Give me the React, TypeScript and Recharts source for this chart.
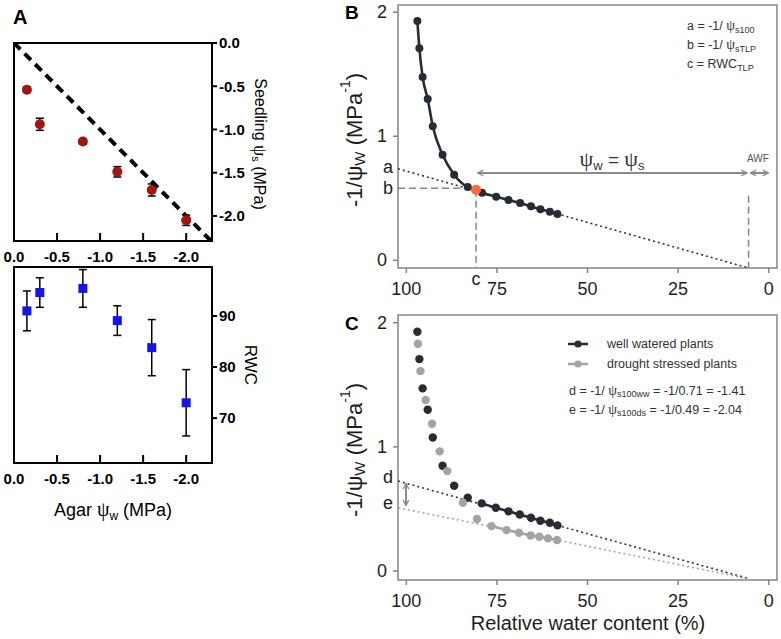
import React from 'react';
import {
  ComposedChart,
  Scatter,
  Line,
  XAxis,
  YAxis,
  ErrorBar,
  ReferenceArea,
  ReferenceLine,
  Legend
} from 'recharts';

const SANS = '"Liberation Sans", Arial, sans-serif';
const SERIF = '"Liberation Serif", "DejaVu Serif", serif';
const INK = '#1e1e1e';
const FRAME = '#858585';
const DARK = '#262b34';
const LIGHT = '#a4a4a4';
const ARROW = '#8a8a8a';

// ---- panel A : seedlings on agar ----
const agarPsiW = [-0.15, -0.3, -0.8, -1.2, -1.6, -2.0];
const seedlingPsiS = [-0.54, -0.94, -1.14, -1.49, -1.7, -2.05];
const seedlingPsiSErr = [0.03, 0.07, 0.03, 0.06, 0.07, 0.06];
const seedlingRwc = [91.0, 94.6, 95.4, 89.1, 83.8, 73.0];
const seedlingRwcErr = [3.9, 2.9, 3.7, 2.9, 5.5, 6.5];
const oneToOneX = [0, -2.29];
const oneToOneY = [0, -2.29];
const agarTicks = [0, -0.5, -1, -1.5, -2];
const psiSTicks = [0, -0.5, -1, -1.5, -2];
const rwcTicksA = [70, 80, 90];

// ---- panel B : pressure-volume curve ----
const pvRwc = [96.96, 96.4, 95.5, 94.1, 92.7, 90.0, 86.8, 83.05, 80.75, 79.1, 75.2, 71.8, 68.6, 65.6, 63.0, 60.4, 58.3];
const pvInvPsi = [1.93, 1.71, 1.477, 1.3, 1.08, 0.85, 0.69, 0.59, 0.569, 0.545, 0.513, 0.486, 0.462, 0.435, 0.411, 0.392, 0.374];
const tlpRwc = 80.75;
const tlpInvPsi = 0.569;
const fitRwcB = [102.3, 5.8];
const fitInvB = [0.738, -0.06];
const aLabel = 0.75;
const bLabel = 0.58;
const awfRwc = 5.55;

// ---- panel C : well watered vs drought stressed ----
const plantGroups = ['well watered plants', 'drought stressed plants'];
const wwRwc = [96.96, 96.4, 95.5, 94.1, 92.7, 90.0, 86.8, 83.05, 79.2, 75.3, 71.8, 68.7, 65.6, 63.0, 60.4, 58.3];
const wwInvPsi = [1.927, 1.707, 1.471, 1.299, 1.076, 0.848, 0.687, 0.59, 0.545, 0.51, 0.481, 0.456, 0.429, 0.405, 0.389, 0.368];
const dsRwc = [96.8, 96.1, 94.66, 92.9, 90.8, 88.7, 84.4, 80.5, 76.5, 72.35, 68.9, 65.7, 63.3, 60.9, 58.4];
const dsInvPsi = [1.83, 1.61, 1.377, 1.186, 0.964, 0.805, 0.55, 0.419, 0.362, 0.33, 0.309, 0.287, 0.276, 0.263, 0.25];
const fitRwcC = [102.3, 5.8];
const fitInvWw = [0.725, -0.058];
const fitInvDs = [0.51, -0.061];
const dLabel = 0.76;
const eLabel = 0.545;

const rwcTicks = [100, 75, 50, 25, 0];
const invPsiTicks = [0, 1, 2];
const RWC_DOMAIN: [number, number] = [-2.3, 102.3];

const psiData = agarPsiW.map((x, i) => ({ x, y: seedlingPsiS[i], err: seedlingPsiSErr[i] }));
const rwcDataA = agarPsiW.map((x, i) => ({ x, y: seedlingRwc[i], err: seedlingRwcErr[i] }));
const identity = oneToOneX.map((x, i) => ({ x, y: oneToOneY[i] }));
const pvData = pvRwc.map((rwc, i) => ({ rwc, v: pvInvPsi[i] }));
const fitB = fitRwcB.map((rwc, i) => ({ rwc, v: fitInvB[i] }));
const wwData = wwRwc.map((rwc, i) => ({ rwc, v: wwInvPsi[i] }));
const dsData = dsRwc.map((rwc, i) => ({ rwc, v: dsInvPsi[i] }));
const fitWw = fitRwcC.map((rwc, i) => ({ rwc, v: fitInvWw[i] }));
const fitDs = fitRwcC.map((rwc, i) => ({ rwc, v: fitInvDs[i] }));

const AgarTick = (props: any) => {
  const { x, y, payload, up, label } = props;
  return (
    <g>
      <line x1={x} y1={y} x2={x} y2={up ? y - 8 : y + 7} stroke="#000" strokeWidth={2} />
      {label && (
        <text x={x} y={y + 15} textAnchor="middle" dominantBaseline="central" fontFamily={SANS}
          fontWeight="bold" fontSize={15} fill="#000">
          {Number(payload.value).toFixed(1)}
        </text>
      )}
    </g>
  );
};

const RwcTick = (props: any) => {
  const { x, y, payload, letters } = props;
  const letter = letters && letters[String(payload.value)];
  if (letter) {
    return (
      <text x={x} y={y + 11} textAnchor="middle" dominantBaseline="central" fontFamily={SANS} fontSize={18} fill={INK}>
        {letter}
      </text>
    );
  }
  return (
    <g>
      <line x1={x} y1={y} x2={x} y2={y + 5} stroke={FRAME} strokeWidth={1.5} />
      <text x={x} y={y + 21} textAnchor="middle" dominantBaseline="central" fontFamily={SANS} fontSize={18} fill={INK}>
        {payload.value}
      </text>
    </g>
  );
};

const InvTick = (props: any) => {
  const { x, y, payload, letters } = props;
  const letter = letters && letters[String(payload.value)];
  if (letter) {
    return (
      <text x={x - 5} y={y} textAnchor="end" dominantBaseline="central" fontFamily={SANS} fontSize={18} fill={INK}>
        {letter}
      </text>
    );
  }
  return (
    <g>
      <line x1={x} y1={y} x2={x - 5} y2={y} stroke={FRAME} strokeWidth={1.5} />
      <text x={x - 11} y={y} textAnchor="end" dominantBaseline="central" fontFamily={SANS} fontSize={18} fill={INK}>
        {payload.value}
      </text>
    </g>
  );
};

const dot = (r: number, color: string) => (p: any) => <circle cx={p.cx} cy={p.cy} r={r} fill={color} />;
const square = (p: any) => <rect x={p.cx - 4.5} y={p.cy - 4.5} width={9} height={9} fill="#1414f0" />;
const arrow = (p: any) => (
  <line x1={p.x1} y1={p.y1} x2={p.x2} y2={p.y2} stroke={ARROW} strokeWidth={2}
    markerStart="url(#chev)" markerEnd="url(#chev)" />
);

const PlantLegend = ({ payload }: any) => {
  const items = (payload || [])
    .filter((e: any) => e.type !== 'none' && plantGroups.includes(e.value))
    .sort((a: any, b: any) => plantGroups.indexOf(a.value) - plantGroups.indexOf(b.value));
  return (
    <div style={{ fontFamily: SANS, fontSize: 12.5, color: '#333' }}>
      {items.map((e: any) => (
        <div key={e.value} style={{ display: 'flex', alignItems: 'center', height: 20.3 }}>
          <svg width={20} height={10} style={{ display: 'block' }}>
            <line x1={0} y1={5} x2={20} y2={5} stroke={e.color} strokeWidth={2.5} />
            <circle cx={10} cy={5} r={3.6} fill={e.color} />
          </svg>
          <span style={{ marginLeft: 19, whiteSpace: 'nowrap' }}>{e.value}</span>
        </div>
      ))}
    </div>
  );
};

const psiAxisA = { fill: '#000', fontSize: 15, fontWeight: 'bold', fontFamily: SANS };

export default function App() {
  return (
    <div style={{ position: 'absolute', left: 0, top: 0, width: 781, height: 639, background: '#fff', fontFamily: SANS }}>
      <svg width={0} height={0} style={{ position: 'absolute' }}>
        <defs>
          <marker id="chev" viewBox="0 0 10 10" refX="9" refY="5" markerWidth="7" markerHeight="7"
            markerUnits="userSpaceOnUse" orient="auto-start-reverse">
            <path d="M1,1 L9,5 L1,9" fill="none" stroke={ARROW} strokeWidth={1.8} />
          </marker>
        </defs>
      </svg>

      {/* A, top: seedling osmotic potential */}
      <div style={{ position: 'absolute', left: 0, top: 0 }}>
        <ComposedChart width={290} height={272} margin={{ top: 43, right: 18, bottom: 11, left: 14 }}>
          <XAxis type="number" dataKey="x" domain={[-2.3, 0]} reversed allowDataOverflow ticks={agarTicks}
            interval={0} height={20} tickSize={0} tickMargin={0} tickLine={false}
            axisLine={{ stroke: '#000', strokeWidth: 2 }} tick={<AgarTick up label />} />
          <YAxis type="number" dataKey="y" orientation="right" domain={[-2.29, 0]} allowDataOverflow
            ticks={psiSTicks} interval={0} width={60} tickSize={5} tickMargin={2}
            tickFormatter={(v: number) => v.toFixed(1)} tick={psiAxisA}
            tickLine={{ stroke: '#000', strokeWidth: 2 }} axisLine={{ stroke: '#000', strokeWidth: 2 }} />
          <ReferenceArea x1={-2.3} x2={0} y1={-2.29} y2={0} fill="none" stroke="#000" strokeWidth={2} />
          <Line data={identity} dataKey="y" stroke="#000" strokeWidth={4} strokeDasharray="9 6" dot={false}
            legendType="none" isAnimationActive={false} />
          <Scatter data={psiData} fill="#a3160f" shape={dot(5, '#a3160f')} isAnimationActive={false}>
            <ErrorBar dataKey="err" direction="y" width={4} stroke="#000" strokeWidth={1.5} />
          </Scatter>
        </ComposedChart>
      </div>

      {/* A, bottom: seedling RWC */}
      <div style={{ position: 'absolute', left: 0, top: 245 }}>
        <ComposedChart width={290} height={280} margin={{ top: 22, right: 18, bottom: 42, left: 14 }}>
          <XAxis type="number" dataKey="x" domain={[-2.3, 0]} reversed allowDataOverflow ticks={agarTicks}
            interval={0} height={20} tickSize={0} tickMargin={0} tickLine={false}
            axisLine={{ stroke: '#000', strokeWidth: 2 }} tick={<AgarTick up label />} />
          <XAxis xAxisId="top" orientation="top" type="number" dataKey="x" domain={[-2.3, 0]} reversed
            allowDataOverflow ticks={agarTicks} interval={0} height={0} tickSize={0} tickMargin={0}
            tickLine={false} axisLine={false} tick={<AgarTick />} />
          <YAxis type="number" dataKey="y" orientation="right" domain={[61.2, 99.6]} allowDataOverflow
            ticks={rwcTicksA} interval={0} width={60} tickSize={5} tickMargin={2} tick={psiAxisA}
            tickLine={{ stroke: '#000', strokeWidth: 2 }} axisLine={{ stroke: '#000', strokeWidth: 2 }} />
          <ReferenceArea x1={-2.3} x2={0} y1={61.2} y2={99.6} fill="none" stroke="#000" strokeWidth={2} />
          <Scatter data={rwcDataA} fill="#1414f0" shape={square} isAnimationActive={false}>
            <ErrorBar dataKey="err" direction="y" width={4} stroke="#000" strokeWidth={1.5} />
          </Scatter>
        </ComposedChart>
      </div>

      {/* B: pressure-volume curve */}
      <div style={{ position: 'absolute', left: 270, top: 0 }}>
        <ComposedChart width={511} height={310} margin={{ top: 5, right: 4, bottom: 2, left: 88 }}>
          <XAxis type="number" dataKey="rwc" domain={RWC_DOMAIN} reversed allowDataOverflow
            ticks={[...rwcTicks, tlpRwc]} interval={0} height={40} tickSize={0} tickMargin={0}
            tickLine={false} axisLine={false} tick={<RwcTick letters={{ [String(tlpRwc)]: 'c' }} />} />
          <YAxis type="number" dataKey="v" domain={[-0.062, 2.058]} allowDataOverflow
            ticks={[...invPsiTicks, aLabel, bLabel]} interval={0} width={40} tickSize={0} tickMargin={0}
            tickLine={false} axisLine={false}
            tick={<InvTick letters={{ [String(aLabel)]: 'a', [String(bLabel)]: 'b' }} />} />
          <ReferenceArea x1={RWC_DOMAIN[0]} x2={RWC_DOMAIN[1]} y1={-0.062} y2={2.058} fill="none"
            stroke={FRAME} strokeWidth={1.5} />
          <ReferenceLine segment={[{ x: RWC_DOMAIN[1], y: bLabel }, { x: tlpRwc, y: bLabel }]}
            stroke={FRAME} strokeWidth={1.5} strokeDasharray="7 4" />
          <ReferenceLine segment={[{ x: tlpRwc, y: tlpInvPsi }, { x: tlpRwc, y: -0.062 }]}
            stroke={FRAME} strokeWidth={1.5} strokeDasharray="7 4" />
          <ReferenceLine segment={[{ x: awfRwc, y: 0.52 }, { x: awfRwc, y: -0.062 }]}
            stroke={FRAME} strokeWidth={1.5} strokeDasharray="7 4" />
          <ReferenceLine segment={[{ x: 80.3, y: 0.704 }, { x: 6.0, y: 0.704 }]} shape={arrow} />
          <ReferenceLine segment={[{ x: 5.0, y: 0.704 }, { x: 0.1, y: 0.704 }]} shape={arrow} />
          <Line data={fitB} dataKey="v" stroke="#333" strokeWidth={1.6} strokeDasharray="2 3" dot={false}
            legendType="none" isAnimationActive={false} />
          <Line data={pvData} dataKey="v" type="monotone" stroke={DARK} strokeWidth={2.6}
            dot={{ r: 4, fill: DARK, stroke: DARK, strokeWidth: 0 }} legendType="none" isAnimationActive={false} />
          <Scatter data={[{ rwc: tlpRwc, v: tlpInvPsi }]} fill="#ff6a3a" shape={dot(5, '#ff6a3a')}
            legendType="none" isAnimationActive={false} />
        </ComposedChart>
      </div>

      {/* C: well watered vs drought stressed */}
      <div style={{ position: 'absolute', left: 270, top: 310 }}>
        <ComposedChart width={511} height={329} margin={{ top: 5, right: 4, bottom: 19, left: 88 }}>
          <XAxis type="number" dataKey="rwc" domain={RWC_DOMAIN} reversed allowDataOverflow ticks={rwcTicks}
            interval={0} height={40} tickSize={0} tickMargin={0} tickLine={false} axisLine={false}
            tick={<RwcTick />} />
          <YAxis type="number" dataKey="v" domain={[-0.072, 2.062]} allowDataOverflow
            ticks={[...invPsiTicks, dLabel, eLabel]} interval={0} width={40} tickSize={0} tickMargin={0}
            tickLine={false} axisLine={false}
            tick={<InvTick letters={{ [String(dLabel)]: 'd', [String(eLabel)]: 'e' }} />} />
          <ReferenceArea x1={RWC_DOMAIN[0]} x2={RWC_DOMAIN[1]} y1={-0.072} y2={2.062} fill="none"
            stroke={FRAME} strokeWidth={1.5} />
          <ReferenceLine segment={[{ x: 100.1, y: 0.706 }, { x: 100.1, y: 0.526 }]} shape={arrow} />
          <Line data={fitWw} dataKey="v" stroke="#333" strokeWidth={1.6} strokeDasharray="2 3" dot={false}
            legendType="none" isAnimationActive={false} />
          <Line data={fitDs} dataKey="v" stroke={LIGHT} strokeWidth={1.6} strokeDasharray="2 3" dot={false}
            legendType="none" isAnimationActive={false} />
          <Line data={wwData.filter(d => d.rwc < 80)} dataKey="v" stroke={DARK} strokeWidth={2.6} dot={false}
            legendType="none" isAnimationActive={false} />
          <Line data={dsData.filter(d => d.rwc < 78)} dataKey="v" stroke={LIGHT} strokeWidth={2.6} dot={false}
            legendType="none" isAnimationActive={false} />
          <Scatter name={plantGroups[0]} data={wwData} fill={DARK} shape={dot(4.2, DARK)} isAnimationActive={false} />
          <Scatter name={plantGroups[1]} data={dsData} fill={LIGHT} shape={dot(4.2, LIGHT)} isAnimationActive={false} />
          <Legend layout="vertical" align="center" verticalAlign="middle" content={<PlantLegend />}
            wrapperStyle={{ left: 298, top: 24, width: 210, height: 42 }} />
        </ComposedChart>
      </div>

      {/* titles and annotations */}
      <svg width={781} height={639} style={{ position: 'absolute', left: 0, top: 0, pointerEvents: 'none' }}
        fontFamily={SANS}>
        <text x={13} y={24} fontSize={20} fontWeight="bold" fill="#000">A</text>
        <text x={345} y={19} fontSize={19} fontWeight="bold" fill="#000">B</text>
        <text x={345} y={330} fontSize={19} fontWeight="bold" fill="#000">C</text>

        <text transform="translate(260,144) rotate(90)" textAnchor="middle" dominantBaseline="central" fontSize={16} fill="#000">
          Seedling <tspan fontFamily={SERIF} fontSize={18}>ψ</tspan><tspan fontSize={11} dy={4}>s</tspan><tspan dy={-4}> (MPa)</tspan>
        </text>
        <text transform="translate(250,365) rotate(90)" textAnchor="middle" dominantBaseline="central" fontSize={17} fill="#000">RWC</text>
        <text x={113} y={516} textAnchor="middle" fontSize={18} fill="#000">
          Agar <tspan fontFamily={SERIF} fontSize={20}>ψ</tspan><tspan fontSize={12} dy={4}>w</tspan><tspan dy={-4}> (MPa)</tspan>
        </text>

        {[140, 450].map(cy => (
          <text key={cy} transform={`translate(354,${cy}) rotate(-90)`} textAnchor="middle" dominantBaseline="central" fontSize={22} fill={INK}>
            -1/<tspan fontSize={22}>ψ</tspan><tspan fontSize={15} dy={5}>W</tspan><tspan dy={-5}> (MPa</tspan><tspan fontSize={14} dy={-9}>-1</tspan><tspan dy={9}>)</tspan>
          </text>
        ))}
        <text x={588} y={630} textAnchor="middle" fontSize={20} fill={INK}>Relative water content (%)</text>

        <g fontSize={12.5} fill="#333">
          <text x={687} y={30}>a = -1/ <tspan fontFamily={SERIF} fontSize={14}>ψ</tspan><tspan fontSize={9} dy={2.5}>s100</tspan></text>
          <text x={687} y={49}>b = -1/ <tspan fontFamily={SERIF} fontSize={14}>ψ</tspan><tspan fontSize={9} dy={2.5}>sTLP</tspan></text>
          <text x={687} y={68}>c = RWC<tspan fontSize={9} dy={2.5}>TLP</tspan></text>
          <text x={569} y={394.5}>d = -1/ <tspan fontFamily={SERIF} fontSize={14}>ψ</tspan><tspan fontSize={9} dy={2.5}>s100ww</tspan><tspan dy={-2.5}> = -1/0.71 = -1.41</tspan></text>
          <text x={569} y={413.5}>e = -1/ <tspan fontFamily={SERIF} fontSize={14}>ψ</tspan><tspan fontSize={9} dy={2.5}>s100ds</tspan><tspan dy={-2.5}> = -1/0.49 = -2.04</tspan></text>
        </g>

        <text x={612} y={166} textAnchor="middle" fontSize={19} fill="#333">
          <tspan fontFamily={SERIF} fontSize={22}>ψ</tspan><tspan fontSize={13} dy={4}>w</tspan><tspan dy={-4}> = </tspan><tspan fontFamily={SERIF} fontSize={22}>ψ</tspan><tspan fontSize={13} dy={4}>s</tspan>
        </text>
        <text x={758} y={162} textAnchor="middle" fontSize={10} fill="#555">AWF</text>
      </svg>
    </div>
  );
}
